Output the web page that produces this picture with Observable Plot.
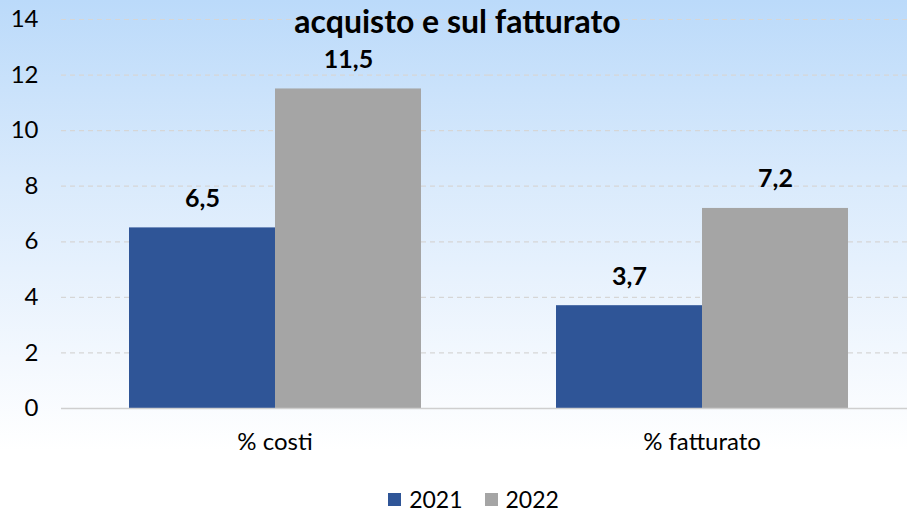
<!DOCTYPE html>
<html><head><meta charset="utf-8">
<script src="https://cdn.jsdelivr.net/npm/d3@7"></script>
<script src="https://cdn.jsdelivr.net/npm/@observablehq/plot@0.6"></script>
<style>
body{margin:0;}
#wrap{position:relative;width:907px;height:512px;overflow:hidden;
  background:linear-gradient(to bottom,#bbdafa 0%,#d9eafc 35%,#f3f8fe 70%,#ffffff 88%);
  font-family:Lato,"Noto Sans",sans-serif;}
#title{position:absolute;top:5px;left:4px;width:907px;text-align:center;font-weight:bold;font-size:32px;line-height:32px;color:#000;}
#legend{position:absolute;top:484px;left:20px;width:907px;height:30px;display:flex;justify-content:center;align-items:center;font-size:23px;color:#000;}
#legend .sw{width:13px;height:13px;display:inline-block;margin-right:8px;}
#legend .it{display:flex;align-items:center;margin:0 11px;}
svg{display:block;}
</style></head>
<body><div id="wrap"><div id="chart"></div><div id="title">acquisto e sul fatturato</div><div id="legend"></div></div>
<script>
const categories = ["% costi", "% fatturato"];
const years = ["2021", "2022"];
const values2021 = [6.5, 3.7];
const values2022 = [11.5, 7.2];
const colors = ["#2f5597", "#a5a5a5"];
const yTicks = [0, 2, 4, 6, 8, 10, 12, 14];

const rows = [];
categories.forEach((c, i) => {
  rows.push({cat: c, year: years[0], value: values2021[i]});
  rows.push({cat: c, year: years[1], value: values2022[i]});
});
const fmt = v => d3.format(".1f")(v).replace(".", ",");

const plot = Plot.plot({
  width: 907, height: 472,
  marginTop: 19, marginBottom: 64, marginLeft: 60, marginRight: -8,
  style: {fontFamily: "Lato, 'Noto Sans', sans-serif", fontSize: "24px", color: "#000", background: "transparent", overflow: "visible"},
  fx: {domain: categories, padding: 0, label: null, tickSize: 0, tickPadding: 24},
  x: {domain: years, paddingInner: 0, paddingOuter: 0.456, axis: null},
  y: {domain: [0, 14], ticks: yTicks, tickSize: 0, tickPadding: 23, label: null, tickFormat: d => String(d)},
  color: {domain: years, range: colors},
  marks: [
    Plot.ruleY(yTicks.filter(d => d > 0), {stroke: "#d6d6d6", strokeDasharray: "5,4", strokeWidth: 1.2}),
    Plot.barY(rows, {fx: "cat", x: "year", y: "value", fill: "year"}),
    Plot.ruleY([0], {stroke: "#cfcfcf", strokeWidth: 1.5}),
    Plot.text(rows, {fx: "cat", x: "year", y: "value", text: d => fmt(d.value), dy: -29, fontWeight: "bold", fontSize: 25, fill: "#000"})
  ]
});
document.getElementById("chart").appendChild(plot);

const leg = document.getElementById("legend");
years.forEach((y, i) => {
  const it = document.createElement("div");
  it.className = "it";
  it.innerHTML = `<span class="sw" style="background:${colors[i]}"></span><span>${y}</span>`;
  leg.appendChild(it);
});
</script></body></html>
